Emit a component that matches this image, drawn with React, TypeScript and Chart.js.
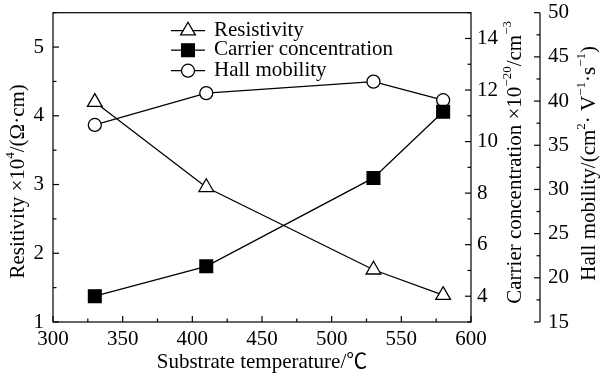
import React, { useEffect, useRef } from 'react';
import { Chart, registerables } from 'chart.js';
import { drawPoint } from 'chart.js/helpers';

Chart.register(...registerables);

// ---- data ----
const temperatures = [330, 410, 530, 580];
const resistivity = [4.2, 2.96, 1.76, 1.39];
const carrierConc = [4.0, 5.16, 8.59, 11.16];
const hallMobility = [37.3, 40.9, 42.2, 40.1];

const seriesLabels = ['Resistivity', 'Carrier concentration', 'Hall mobility'];

// axis ranges / tick steps
const xRange = [300, 600];
const xStep = 25;
const xLabelEvery = 50;
const yRange = [1, 5.5];
const yStep = 0.5;
const yLabelEvery = 1;
const y1Range = [3, 15];
const y1Step = 1;
const y1LabelEvery = 2;
const y2Range = [15, 50];
const y2Step = 2.5;
const y2LabelEvery = 5;

const xTitle = 'Substrate temperature/\u2103';
type Seg = { t: string; sup?: boolean };
const yTitle: Seg[] = [{ t: 'Resitivity \u00d710' }, { t: '4', sup: true }, { t: '/(\u03a9\u00b7cm)' }];
const y1Title: Seg[] = [
  { t: 'Carrier concentration \u00d710' },
  { t: '\u221220', sup: true },
  { t: '/cm' },
  { t: '\u22123', sup: true },
];
const y2Title: Seg[] = [
  { t: 'Hall mobility/(cm' },
  { t: '2', sup: true },
  { t: '\u00b7 V' },
  { t: '\u22121', sup: true },
  { t: '\u00b7s' },
  { t: '\u22121', sup: true },
  { t: ')' },
];

const FONT = "'Liberation Serif', 'Times New Roman', serif";
const TITLE_FONT = "'Liberation Serif', 'Noto Sans CJK SC', serif";
const FS = 21;

const isMult = (v: number, m: number) => Math.abs(v / m - Math.round(v / m)) < 1e-6;

function drawRich(ctx: CanvasRenderingContext2D, segs: Seg[], cx: number, cy: number) {
  const supSize = FS * 0.62;
  let total = 0;
  const widths = segs.map((s) => {
    ctx.font = `${s.sup ? supSize : FS}px ${FONT}`;
    const w = ctx.measureText(s.t).width;
    total += w;
    return w;
  });
  ctx.save();
  ctx.translate(cx, cy);
  ctx.rotate(-Math.PI / 2);
  ctx.fillStyle = '#000';
  ctx.textBaseline = 'middle';
  ctx.textAlign = 'left';
  let x = -total / 2;
  segs.forEach((s, i) => {
    ctx.font = `${s.sup ? supSize : FS}px ${FONT}`;
    ctx.fillText(s.t, x, s.sup ? -FS * 0.33 : 0);
    x += widths[i];
  });
  ctx.restore();
}

const framePlugin = {
  id: 'frameAndTicks',
  afterDraw(chart: any) {
    const { ctx, chartArea: a, scales } = chart;
    ctx.save();
    ctx.strokeStyle = '#000';
    ctx.lineWidth = 1.2;
    ctx.strokeRect(a.left, a.top, a.right - a.left, a.bottom - a.top);
    const major = 6;
    const minor = 3.5;
    const tickLine = (x1: number, y1: number, x2: number, y2: number) => {
      ctx.beginPath();
      ctx.moveTo(x1, y1);
      ctx.lineTo(x2, y2);
      ctx.stroke();
    };
    // x ticks (inward from bottom)
    scales.x.ticks.forEach((t: any) => {
      const p = scales.x.getPixelForValue(t.value);
      const L = isMult(t.value, xLabelEvery) ? major : minor;
      tickLine(p, a.bottom, p, a.bottom - L);
    });
    // left y ticks (inward)
    scales.y.ticks.forEach((t: any) => {
      const p = scales.y.getPixelForValue(t.value);
      const L = isMult(t.value, yLabelEvery) ? major : minor;
      tickLine(a.left, p, a.left + L, p);
    });
    // y1 ticks (inward from right)
    scales.y1.ticks.forEach((t: any) => {
      const p = scales.y1.getPixelForValue(t.value);
      const L = isMult(t.value, y1LabelEvery) ? major : minor;
      tickLine(a.right, p, a.right - L, p);
    });
    // y2 spine + ticks (pointing left)
    const s2 = scales.y2;
    tickLine(s2.left, a.top, s2.left, a.bottom);
    s2.ticks.forEach((t: any) => {
      const p = s2.getPixelForValue(t.value);
      const L = isMult(t.value, y2LabelEvery) ? major : minor;
      tickLine(s2.left, p, s2.left - L, p);
    });
    // vertical titles
    const mid = (a.top + a.bottom) / 2;
    drawRich(ctx, yTitle, 18, mid + 14);
    drawRich(ctx, y1Title, scales.y1.left + 44, mid - 5);
    drawRich(ctx, y2Title, s2.left + 49, mid - 4);

    // legend
    const lx = a.left + 118;
    const rowY = [a.top + 18, a.top + 37.5, a.top + 58];
    chart.data.datasets.forEach((ds: any, i: number) => {
      const y = rowY[i];
      ctx.strokeStyle = '#000';
      ctx.lineWidth = 1.2;
      tickLine(lx, y, lx + 34, y);
      ctx.fillStyle = ds.pointBackgroundColor;
      ctx.strokeStyle = ds.pointBorderColor;
      ctx.lineWidth = ds.pointBorderWidth;
      drawPoint(ctx, { pointStyle: ds.pointStyle, radius: ds.pointRadius, borderWidth: ds.pointBorderWidth, rotation: 0 }, lx + 17, y);
      ctx.fillStyle = '#000';
      ctx.font = `${FS}px ${FONT}`;
      ctx.textAlign = 'left';
      ctx.textBaseline = 'alphabetic';
      ctx.fillText(ds.label, lx + 43, y + 4.8);
    });
    ctx.restore();
  },
};

const noPad = (s: any) => {
  s.paddingTop = 0;
  s.paddingBottom = 0;
  s.paddingLeft = 0;
  s.paddingRight = 0;
};

export default function App() {
  const ref = useRef<HTMLCanvasElement>(null);
  useEffect(() => {
    if (!ref.current) return;
    const tickFont = { family: FONT, size: FS };
    const common = {
      grid: { display: false, drawTicks: false },
      border: { display: false },
    };
    const mk = (label: string, data: number[], axis: string, style: string, radius: number, fill: string) => ({
      label,
      data: temperatures.map((t, i) => ({ x: t, y: data[i] })),
      yAxisID: axis,
      borderColor: '#000',
      borderWidth: 1.3,
      pointStyle: style,
      pointRadius: radius,
      pointBackgroundColor: fill,
      pointBorderColor: '#000',
      pointBorderWidth: 1.3,
      fill: false,
      tension: 0,
    });
    const chart = new Chart(ref.current, {
      type: 'line',
      data: {
        datasets: [
          mk(seriesLabels[0], resistivity, 'y', 'triangle', 8.5, '#fff'),
          mk(seriesLabels[1], carrierConc, 'y1', 'rect', 9, '#000'),
          mk(seriesLabels[2], hallMobility, 'y2', 'circle', 6.5, '#fff'),
        ],
      },
      options: {
        responsive: false,
        animation: false,
        devicePixelRatio: 1,
        layout: { padding: { top: 12.7, left: 0, right: 0, bottom: 0 } },
        plugins: { legend: { display: false }, tooltip: { enabled: false } },
        scales: {
          x: {
            type: 'linear',
            position: 'bottom',
            min: xRange[0],
            max: xRange[1],
            ...common,
            ticks: {
              stepSize: xStep,
              autoSkip: false,
              maxRotation: 0,
              font: tickFont,
              color: '#000',
              padding: 5,
              callback: (v: any) => (isMult(v, xLabelEvery) ? String(v) : ''),
            },
            title: {
              display: true,
              text: xTitle,
              font: { family: TITLE_FONT, size: FS },
              color: '#000',
              padding: { top: 0, bottom: 4 },
            },
            afterFit: (s: any) => {
              s.height = 57;
              noPad(s);
            },
          },
          y: {
            type: 'linear',
            position: 'left',
            min: yRange[0],
            max: yRange[1],
            ...common,
            ticks: {
              stepSize: yStep,
              autoSkip: false,
              font: tickFont,
              color: '#000',
              padding: 9,
              callback: (v: any) => (isMult(v, yLabelEvery) ? String(v) : ''),
            },
            afterFit: (s: any) => {
              s.width = 53;
              noPad(s);
            },
          },
          y1: {
            type: 'linear',
            position: 'right',
            min: y1Range[0],
            max: y1Range[1],
            ...common,
            ticks: {
              stepSize: y1Step,
              autoSkip: false,
              font: tickFont,
              color: '#000',
              padding: 6,
              callback: (v: any) => (isMult(v, y1LabelEvery) ? String(v) : ''),
            },
            afterFit: (s: any) => {
              s.width = 69;
              noPad(s);
            },
          },
          y2: {
            type: 'linear',
            position: 'right',
            min: y2Range[0],
            max: y2Range[1],
            ...common,
            ticks: {
              stepSize: y2Step,
              autoSkip: false,
              font: tickFont,
              color: '#000',
              padding: 8,
              callback: (v: any) => (isMult(v, y2LabelEvery) ? String(v) : ''),
            },
            afterFit: (s: any) => {
              s.width = 60;
              noPad(s);
            },
          },
        },
      } as any,
      plugins: [framePlugin],
    });
    return () => chart.destroy();
  }, []);
  return (
    <div style={{ position: 'fixed', left: 0, top: 0, width: 600, height: 379, background: '#fff' }}>
      <canvas ref={ref} width={600} height={379} style={{ display: 'block' }} />
    </div>
  );
}
